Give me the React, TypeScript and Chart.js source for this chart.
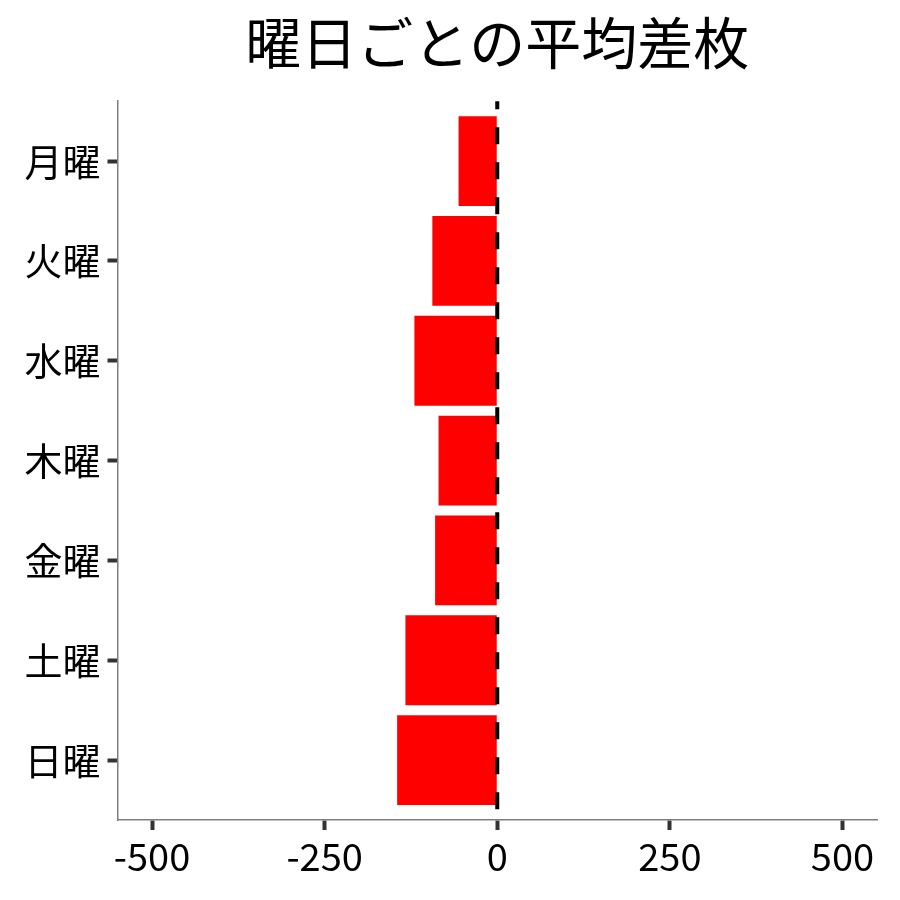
import { useEffect, useRef } from "react";
import { Chart, registerables, Plugin } from "chart.js";

Chart.register(...registerables);

const days = ["月曜", "火曜", "水曜", "木曜", "金曜", "土曜", "日曜"];
const avgDiff = [-56, -94, -120, -85, -90, -133, -145];
const xTicks = [-500, -250, 0, 250, 500];

const FONT = "'Noto Sans CJK JP', 'Noto Sans', sans-serif";

// dashed reference line at zero
const zeroLine: Plugin<"bar"> = {
  id: "zeroLine",
  afterDatasetsDraw(chart) {
    const { ctx, chartArea, scales } = chart;
    const x = scales.x.getPixelForValue(0);
    ctx.save();
    ctx.beginPath();
    ctx.setLineDash([17, 18]);
    ctx.lineDashOffset = 9;
    ctx.lineWidth = 4;
    ctx.strokeStyle = "#000";
    ctx.moveTo(x, chartArea.top);
    ctx.lineTo(x, chartArea.bottom);
    ctx.stroke();
    ctx.restore();
  },
};

const App = () => {
  const canvasRef = useRef<HTMLCanvasElement | null>(null);

  useEffect(() => {
    if (!canvasRef.current) return;
    const ctx = canvasRef.current.getContext("2d");
    if (!ctx) return;

    const chart = new Chart(ctx, {
      type: "bar",
      data: {
        datasets: [
          {
            data: days.map((_, i) => ({ x: avgDiff[i], y: i })) as any,
            backgroundColor: "#ff0000",
            borderWidth: 0,
            barPercentage: 0.9,
            categoryPercentage: 1,
          },
        ],
      },
      options: {
        animation: false,
        responsive: true,
        maintainAspectRatio: false,
        indexAxis: "y",
        layout: { padding: { top: 0, right: 15, bottom: 0, left: 0 } },
        plugins: {
          legend: { display: false },
          tooltip: { enabled: false },
          title: {
            display: true,
            text: "曜日ごとの平均差枚",
            fullSize: false,
            color: "#000",
            font: { family: FONT, size: 56, weight: "normal" },
            padding: { top: 1.5, bottom: 24.5 },
          },
        },
        scales: {
          x: {
            type: "linear",
            min: -550,
            max: 550,
            afterBuildTicks: (scale) => {
              scale.ticks = xTicks.map((v) => ({ value: v }));
            },
            afterFit: (scale) => {
              scale.height = 72;
            },
            grid: {
              drawOnChartArea: false,
              drawTicks: true,
              tickLength: 10,
              tickWidth: 4,
              tickColor: "#333333",
            },
            border: { display: true, color: "#7f7f7f", width: 1.5 },
            ticks: {
              color: "#000",
              padding: 4,
              maxRotation: 0,
              font: { family: FONT, size: 38 },
            },
          },
          y: {
            type: "linear",
            reverse: true,
            offset: false,
            min: -0.6,
            max: 6.6,
            afterBuildTicks: (scale) => {
              scale.ticks = days.map((_, i) => ({ value: i }));
            },
            afterFit: (scale) => {
              scale.width = 109.5;
            },
            grid: {
              offset: false,
              drawOnChartArea: false,
              drawTicks: true,
              tickLength: 10,
              tickWidth: 4,
              tickColor: "#333333",
            },
            border: { display: true, color: "#7f7f7f", width: 1.5 },
            ticks: {
              color: "#000",
              padding: 7,
              callback: (v) => days[Number(v)] ?? "",
              font: { family: FONT, size: 38 },
            },
          },
        },
      },
      plugins: [zeroLine],
    });

    return () => {
      chart.destroy();
    };
  }, []);

  return (
    <div style={{ width: "884px", height: "884px", position: "relative" }}>
      <canvas ref={canvasRef} />
    </div>
  );
};

export default App;
